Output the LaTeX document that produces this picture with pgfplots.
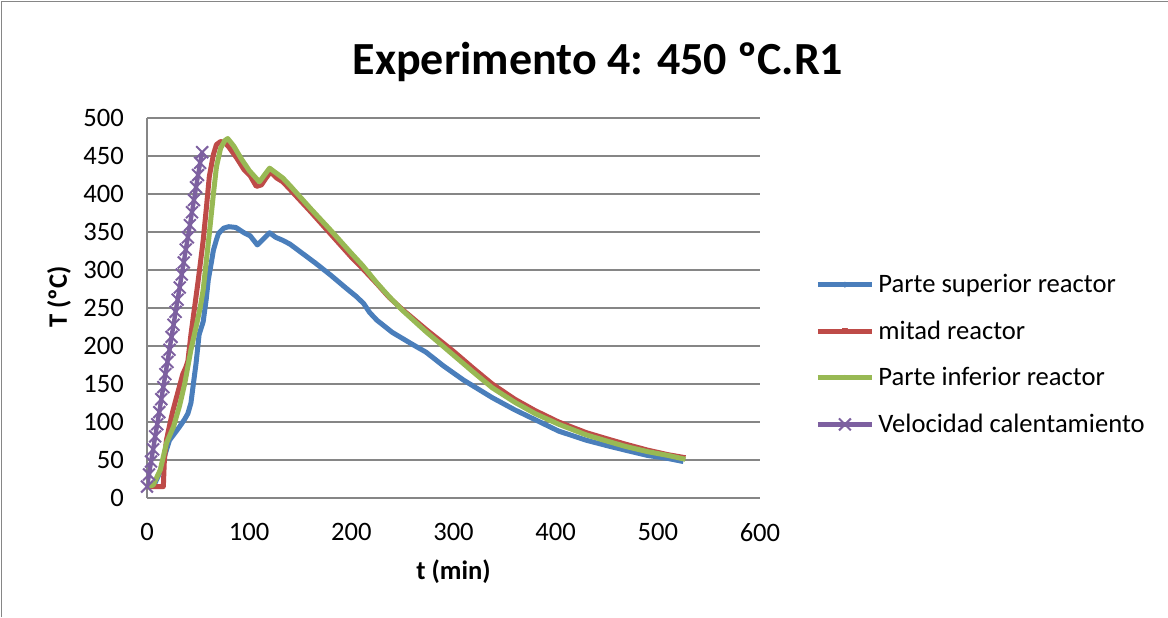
\documentclass[border=0pt]{standalone}
\usepackage{fontspec}
\setmainfont{Carlito}
\usepackage{pgfplots}
\pgfplotsset{compat=1.18}
\definecolor{cblue}{HTML}{4A7EBB}
\definecolor{cred}{HTML}{BE4B48}
\definecolor{cgreen}{HTML}{98B954}
\definecolor{cpurple}{HTML}{7D60A0}
\definecolor{cgrid}{HTML}{868686}
\begin{document}
\begin{tikzpicture}
\useasboundingbox (0pt,0pt) rectangle (584pt,308.5pt);
\draw[cgrid, line width=0.75pt] (0.75pt,0pt) -- (0.75pt,307.75pt) -- (584pt,307.75pt);
\node[font=\bfseries\fontsize{23}{27}\selectfont] at (299pt,277.5pt) {Experimento 4: 450 ºC.R1};
\begin{axis}[
  at={(73.5pt,59.5pt)}, anchor=south west, scale only axis,
  width=306.5pt, height=190pt,
  xmin=0, xmax=600, ymin=0, ymax=500,
  xtick={0,100,...,600}, ytick={0,50,...,500},
  axis x line*=bottom, axis y line*=left,
  axis line style={cgrid, line width=0.75pt, -},
  ymajorgrids, grid style={cgrid, line width=0.75pt},
  major tick length=0pt,
  ticklabel style={font=\fontsize{13.3}{16}\selectfont},
  /pgf/number format/assume math mode=true,
  xticklabel style={yshift=-9pt}, yticklabel style={xshift=-8pt},
  xlabel={t (min)}, ylabel={T (ºC)},
  label style={font=\bfseries\fontsize{13.3}{16}\selectfont},
  x label style={at={(axis description cs:0.5,-0.195)}, anchor=center},
  y label style={at={(axis description cs:-0.1436,0.529)}, anchor=center},
  legend style={at={(1.0898,0.601)}, anchor=north west, draw=none, fill=none,
    font=\fontsize{13.3}{16}\selectfont, row sep=8.6pt, inner sep=0pt},
  legend cell align=left,
  legend image code/.code={\draw[mark repeat=2,mark phase=2,#1] plot coordinates {(0pt,0pt) (13.5pt,0pt) (27pt,0pt)};},
  every axis plot/.append style={line width=2.5pt, line join=round},
]
\addplot[cblue, legend image post style={mark=diamond*, mark size=1.3pt, mark options={line width=0.4pt}}] coordinates {
(0,15) (8,20) (13,35) (16,50) (19,63) (22,76) (27,85) (32,94) (37,104) (40,111)
(43,125) (45,146) (48,177) (51,215) (55,232) (58,262) (60,287) (63,310)
(65,326) (68,340) (70,348) (75,355) (80,357) (87,356) (95,349) (101,345) (108,333)
(114,341) (120,349) (126,343) (133,339) (140,334) (150,324) (165,309) (180,293)
(195,276) (205,265) (212,256) (218,244) (225,234) (240,218)
(260,202) (273,192) (290,174) (310,155) (338,132) (360,116) (380,103) (403,88)
(430,76) (450,69) (468,63) (490,56) (510,52) (525,48)};
\addlegendentry{Parte superior reactor}
\addplot[cred, legend image post style={mark=square*, mark size=1.2pt, mark options={line width=0.4pt}}] coordinates {
(0,15) (8,15) (16,15) (17,50) (19,76) (22,95) (25,113) (30,138) (35,163) (38,172)
(40,180) (43,215) (46,245) (50,285) (55,339) (58,380) (61,423) (65,452)
(68,465) (72,469) (76,468) (80,462) (88,447) (95,432) (101,424) (107,410) (112,412)
(117,422) (121,429) (127,421) (133,416) (140,406) (160,377) (180,347)
(200,317) (211,302) (225,282) (237,264) (250,248) (273,222)
(300,193) (320,170) (338,150) (360,130) (380,115) (403,100) (430,86) (450,78)
(468,71) (490,63) (510,57) (527,53)};
\addlegendentry{mitad reactor}
\addplot[cgreen, legend image post style={mark=triangle*, mark size=1.3pt, mark options={line width=0.4pt}}] coordinates {
(0,15) (6,17) (13,37) (19,72) (26,94) (32,122) (37,151) (43,195) (48,225)
(52,250) (55,274) (58,311) (61,348) (65,400) (68,436) (72,460)
(76,470) (79,473) (85,463) (92,447) (100,431) (110,416) (115,425) (120,434)
(127,427) (133,421) (140,411) (160,381) (180,352)
(200,322) (211,306) (225,283) (237,265) (250,247) (273,219) (300,188)
(320,165) (338,145) (360,126) (380,111) (403,97) (430,83) (450,75) (468,68)
(490,61) (510,56) (527,51)};
\addlegendentry{Parte inferior reactor}
\addplot[cpurple, line width=2.2pt, mark=x, mark size=4.2pt, mark options={line width=1pt}] coordinates {
(0,15) (2,31) (4,48) (6,64) (8,81) (10,97) (12,113) (14,130) (16,146) (18,163)
(20,179) (22,195) (24,212) (26,228) (28,245) (30,261) (32,277) (34,294) (36,310)
(38,327) (40,343) (42,359) (44,376) (46,392) (48,409) (50,425) (52,441) (54,455)};
\addlegendentry{Velocidad calentamiento}
\end{axis}
\end{tikzpicture}
\end{document}
